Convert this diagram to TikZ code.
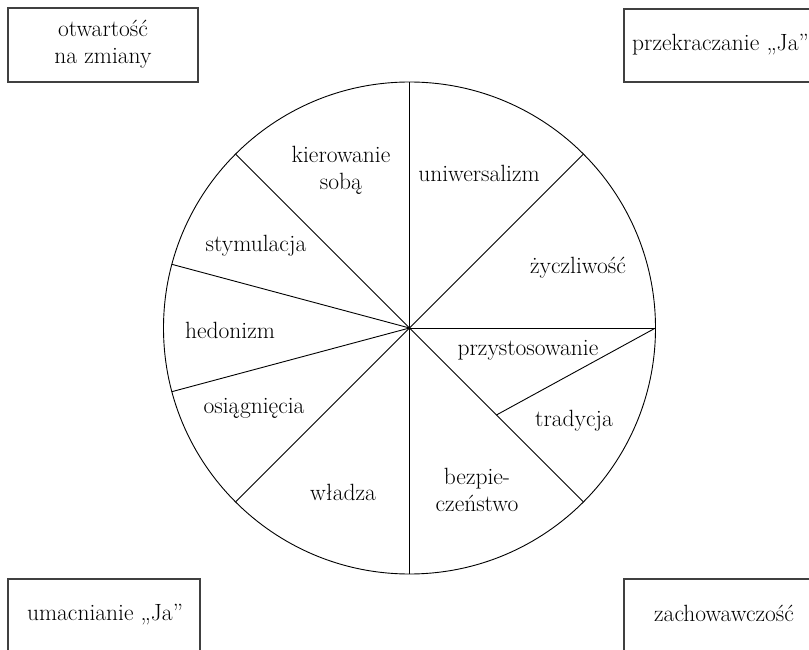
\documentclass[tikz,border=0pt]{standalone}
\usepackage{fontspec}
\usetikzlibrary{calc}
\begin{document}
\begin{tikzpicture}[x=1pt,y=1pt,
  every node/.style={font=\fontsize{23.5}{27}\selectfont, align=center, inner sep=0pt},
  frame/.style={draw=black!75, line width=1.3pt},
  spoke/.style={draw=black, line width=0.9pt}]
\useasboundingbox (0,0) rectangle (809,649);
\clip (0,0) rectangle (809,649);

% corner frames
\draw[frame] (8,567) rectangle (198,641);
\draw[frame] (624,567) rectangle (816,640);
\draw[frame] (8,70) rectangle (200,-12);
\draw[frame] (624,70) rectangle (816,-12);
\node (open) at (103,605) {otwartość\\na zmiany};
\node[anchor=west] (trans) at (632,604) {przekraczanie „Ja”};
\node (enh) at (105,34) {umacnianie „Ja”};
\node (cons) at (724,36) {zachowawczość};

% value circle
\coordinate (c) at (409.5,321);
\draw[spoke] (c) circle[radius=246pt];
\foreach \a in {0,45,90,135,165,195,225,270,315}
  \path (c) ++(\a:246pt) coordinate (r\a);
\path (c) ++(315:123pt) coordinate (m315);
\foreach \a in {0,45,90,135,165,195,225,270,315}
  \draw[spoke] (c) -- (r\a);
\draw[spoke] (m315) -- (r0);

% sector labels
\node (self) at (341,479) {kierowanie\\sobą};
\node (univ) at (479,476) {uniwersalizm};
\node (bene) at (578,381) {życzliwość};
\node (conf) at (528,299) {przystosowanie};
\node (trad) at (574,228) {tradycja};
\node (secu) at (477,159) {bezpie-\\czeństwo};
\node (powe) at (343,157) {władza};
\node (achi) at (254,241) {osiągnięcia};
\node (hedo) at (230,319) {hedonizm};
\node (stim) at (256,403) {stymulacja};
\end{tikzpicture}
\end{document}
